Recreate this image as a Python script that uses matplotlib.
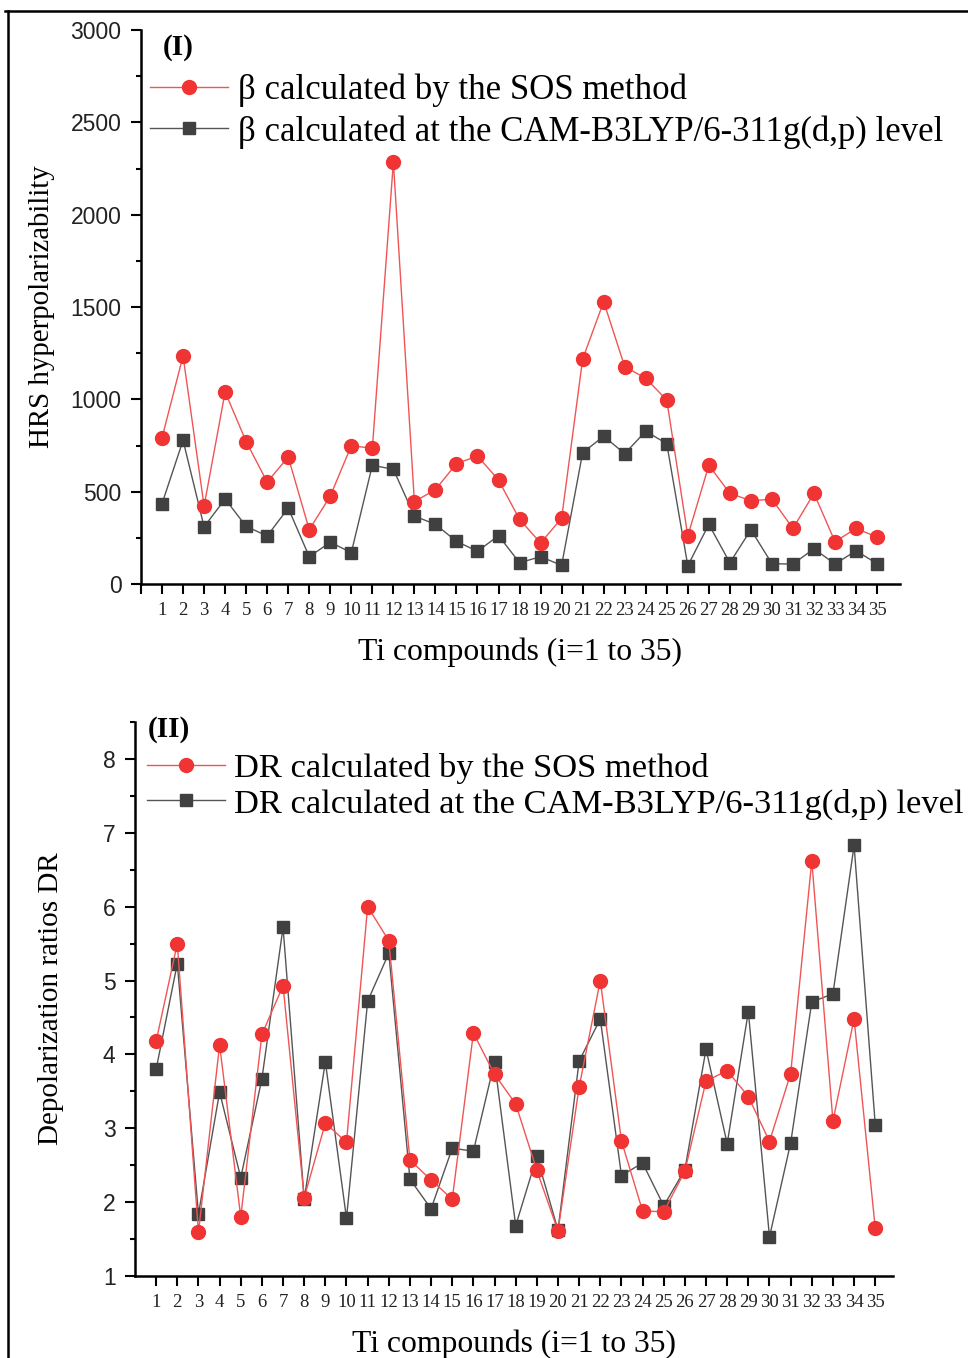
import matplotlib
matplotlib.use("Agg")
import matplotlib.pyplot as plt
from matplotlib.lines import Line2D
from matplotlib.ticker import MultipleLocator

compounds = list(range(1, 36))

beta_sos = [792, 1235, 422, 1040, 771, 552, 688, 294, 476, 749,
            735, 2285, 446, 511, 652, 693, 563, 350, 222, 356,
            1218, 1529, 1177, 1114, 996, 260, 643, 491, 451, 459,
            301, 491, 229, 301, 254]
beta_cam = [435, 778, 310, 460, 312, 260, 411, 148, 226, 170,
            643, 621, 368, 323, 231, 177, 262, 115, 148, 101,
            711, 800, 706, 827, 760, 99, 323, 115, 294, 110,
            108, 191, 108, 180, 110]

dr_sos = [4.18, 5.50, 1.59, 4.13, 1.80, 4.27, 4.93, 2.06, 3.07, 2.81,
          6.00, 5.54, 2.57, 2.30, 2.04, 4.29, 3.73, 3.33, 2.43, 1.61,
          3.56, 5.00, 2.83, 1.88, 1.87, 2.42, 3.64, 3.78, 3.43, 2.82,
          3.74, 6.62, 3.10, 4.48, 1.65]
dr_cam = [3.80, 5.23, 1.84, 3.49, 2.33, 3.67, 5.72, 2.04, 3.90, 1.78,
          4.72, 5.37, 2.31, 1.91, 2.73, 2.69, 3.90, 1.68, 2.62, 1.62,
          3.91, 4.48, 2.36, 2.53, 1.95, 2.44, 4.07, 2.79, 4.58, 1.53,
          2.80, 4.71, 4.82, 6.83, 3.05]

labels_top = ["\u03b2 calculated by the SOS method",
              "\u03b2 calculated at the CAM-B3LYP/6-311g(d,p) level"]
labels_bot = ["DR calculated by the SOS method",
              "DR calculated at the CAM-B3LYP/6-311g(d,p) level"]
xlabel = "Ti compounds (i=1 to 35)"

SERIF = "Liberation Serif"
SANS = "Liberation Sans"
RED_M = "#F03434"
RED_L = "#F05555"
GRAY_M = "#404040"
GRAY_L = "#555555"

fig = plt.figure(figsize=(9.68, 13.58), dpi=100)

# frame lines (top and left)
fig.add_artist(Line2D([5/968, 1.0], [1-11/1358, 1-11/1358], color="black", lw=1.8))
fig.add_artist(Line2D([8/968, 8/968], [0.0, 1-11/1358], color="black", lw=1.8))

ax1 = fig.add_axes([141/968, 1-584/1358, 759/968, 554/1358])
ax2 = fig.add_axes([135/968, 1-1276/1358, 758/968, 554/1358])


def style(ax):
    for s in ["top", "right"]:
        ax.spines[s].set_visible(False)
    for s in ["left", "bottom"]:
        ax.spines[s].set_linewidth(1.8)
    ax.tick_params(axis="both", which="major", direction="out", length=7, width=1.5)
    ax.tick_params(axis="y", which="minor", direction="out", length=3.5, width=1.5)
    ax.tick_params(axis="y", which="major", pad=7)
    ax.tick_params(axis="x", which="major", pad=6)
    for lab in ax.get_yticklabels():
        lab.set_fontfamily(SANS)
        lab.set_fontsize(16.5)
        lab.set_color("#222222")
    for lab in ax.get_xticklabels():
        lab.set_fontfamily(SERIF)
        lab.set_fontsize(13.5)
        lab.set_color("#222222")


# ---- top panel ----
h_cam, = ax1.plot(compounds, beta_cam, color=GRAY_L, lw=1.0, marker="s", ms=9,
                  mfc=GRAY_M, mec=GRAY_M)
h_sos, = ax1.plot(compounds, beta_sos, color=RED_L, lw=1.0, marker="o", ms=10,
                  mfc=RED_M, mec=RED_M)
ax1.set_xlim(0, 36.09)
ax1.set_ylim(0, 3000)
ax1.set_xticks(range(0, 36))
ax1.set_xticklabels([""] + [str(i) for i in compounds])
ax1.set_yticks(range(0, 3001, 500))
ax1.yaxis.set_minor_locator(MultipleLocator(250))
style(ax1)
ax1.set_ylabel("HRS hyperpolarizability", fontfamily=SERIF, fontsize=20.8)
ax1.yaxis.set_label_coords(-0.113, 0.5)
ax1.set_xlabel(xlabel, fontfamily=SERIF, fontsize=22.8)
ax1.xaxis.set_label_coords(0.5, -0.096)
ax1.text(0.028, 0.969, "(I)", transform=ax1.transAxes, fontfamily=SERIF,
         fontweight="bold", fontsize=21, va="center", ha="left")
ax1.legend([h_sos, h_cam], labels_top, loc="upper left",
           bbox_to_anchor=(0.012, 0.922), frameon=False, borderaxespad=0,
           borderpad=0, handlelength=2.25, handletextpad=0.27, labelspacing=0.24,
           prop={"family": SERIF, "size": 25})

# ---- bottom panel ----
g_cam, = ax2.plot(compounds, dr_cam, color=GRAY_L, lw=1.0, marker="s", ms=9,
                  mfc=GRAY_M, mec=GRAY_M)
g_sos, = ax2.plot(compounds, dr_sos, color=RED_L, lw=1.0, marker="o", ms=10,
                  mfc=RED_M, mec=RED_M)
ax2.set_xlim(0, 35.84)
ax2.set_ylim(1, 8.5)
ax2.set_xticks(compounds)
ax2.set_xticklabels([str(i) for i in compounds])
ax2.set_yticks(range(1, 9))
ax2.yaxis.set_minor_locator(MultipleLocator(0.5))
style(ax2)
ax2.set_ylabel("Depolarization ratios DR", fontfamily=SERIF, fontsize=21)
ax2.yaxis.set_label_coords(-0.094, 0.5)
ax2.set_xlabel(xlabel, fontfamily=SERIF, fontsize=22.8)
ax2.xaxis.set_label_coords(0.5, -0.096)
ax2.text(0.017, 0.9856, "(II)", transform=ax2.transAxes, fontfamily=SERIF,
         fontweight="bold", fontsize=21, va="center", ha="left")
ax2.legend([g_sos, g_cam], labels_bot, loc="upper left",
           bbox_to_anchor=(0.016, 0.945), frameon=False, borderaxespad=0,
           borderpad=0, handlelength=2.25, handletextpad=0.27, labelspacing=0.14,
           prop={"family": SERIF, "size": 24.8})

fig.savefig("out.png", dpi=100)
